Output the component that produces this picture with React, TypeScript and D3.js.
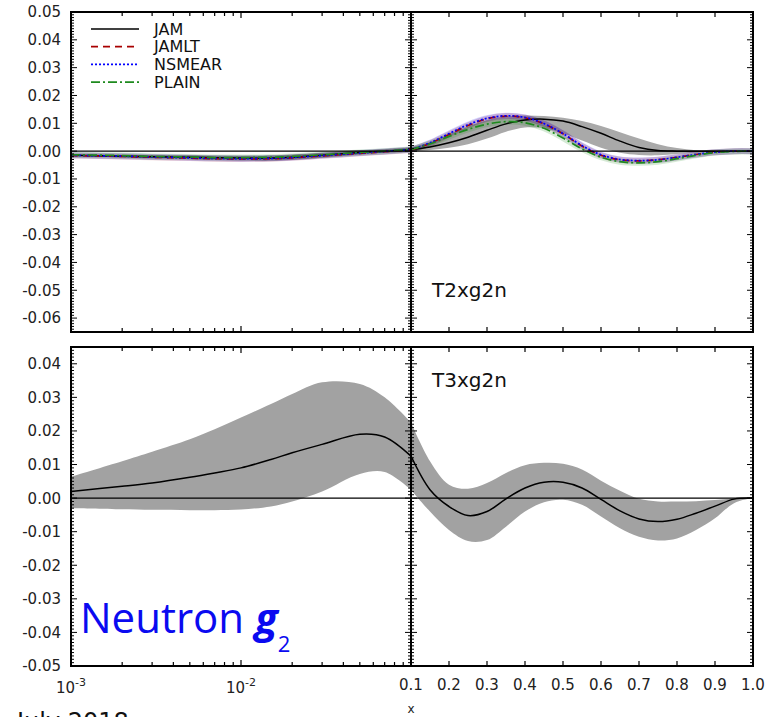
import React from "react";
import * as d3 from "d3";

const W = 776;
const H = 717;

// x grid shared by every curve (index 11 = 0.1, where the log half meets the linear half)
const XS = [
  0.001, 0.002, 0.003, 0.005, 0.007, 0.01, 0.015, 0.02, 0.03, 0.05, 0.07, 0.1,
  0.15, 0.2, 0.25, 0.3, 0.35, 0.4, 0.45, 0.5, 0.55, 0.6, 0.65, 0.7, 0.75, 0.8, 0.85, 0.9, 0.95, 1.0,
];

// T2xg2n (top panel)
const T2_JAM = [
  -0.0015, -0.0018, -0.002, -0.0022, -0.0024, -0.0025, -0.0025, -0.0022, -0.0015, -0.0005, 0.0, 0.0005,
  0.0015, 0.003, 0.005, 0.0075, 0.0098, 0.0112, 0.0115, 0.0108, 0.0088, 0.0064, 0.0036, 0.0013, 0.0002, 0, 0, 0, 0, 0,
];
const T2_JAM_HI = [
  -0.0011, -0.0013, -0.0014, -0.0015, -0.0016, -0.0016, -0.0015, -0.0012, -0.0006, 0.0002, 0.0007, 0.0013,
  0.0032, 0.006, 0.0088, 0.0112, 0.0125, 0.0128, 0.0126, 0.012, 0.0108, 0.009, 0.0068, 0.0045, 0.0025, 0.0011, 0.0003, 0.0, 0, 0,
];
const T2_JAM_LO = [
  -0.0019, -0.0023, -0.0026, -0.0029, -0.0032, -0.0034, -0.0035, -0.0032, -0.0024, -0.0012, -0.0006, -0.0002,
  0.0004, 0.0012, 0.0025, 0.0045, 0.007, 0.0085, 0.0082, 0.0064, 0.0038, 0.0012, -0.0006, -0.0014, -0.0015, -0.001, -0.0005, -0.0002, 0, 0,
];
const T2_JAMLT = [
  -0.0016, -0.0019, -0.0022, -0.0025, -0.0027, -0.0028, -0.0027, -0.0024, -0.0017, -0.0008, -0.0002, 0.0004,
  0.0028, 0.006, 0.0092, 0.0116, 0.0126, 0.012, 0.0098, 0.0062, 0.0018, -0.0015, -0.0031, -0.0035, -0.0031, -0.0022, -0.0012, -0.0004, 0, 0,
];
const T2_NSMEAR = [
  -0.0015, -0.0018, -0.0021, -0.0024, -0.0026, -0.0027, -0.0026, -0.0023, -0.0016, -0.0007, -0.0001, 0.0005,
  0.003, 0.0063, 0.0095, 0.0118, 0.0127, 0.0121, 0.0099, 0.0063, 0.002, -0.0013, -0.003, -0.0034, -0.0031, -0.0022, -0.0012, -0.0004, 0, 0,
];
const T2_PLAIN = [
  -0.0013, -0.0016, -0.0019, -0.0021, -0.0023, -0.0023, -0.0022, -0.0019, -0.0013, -0.0005, 0.0, 0.0006,
  0.0026, 0.0053, 0.0078, 0.0097, 0.0106, 0.0102, 0.0082, 0.0047, 0.0008, -0.0022, -0.0038, -0.0042, -0.0038, -0.0027, -0.0015, -0.0005, -0.0001, 0,
];

// T3xg2n (bottom panel)
const T3_JAM = [
  0.002, 0.0035, 0.0045, 0.0062, 0.0075, 0.009, 0.0115, 0.0135, 0.016, 0.019, 0.0182, 0.0125,
  0.0025, -0.0025, -0.0052, -0.004, -0.0002, 0.003, 0.0047, 0.0047, 0.003, -0.0004, -0.0038, -0.0062, -0.007, -0.0063, -0.0045, -0.0024, -0.0003, 0,
];
const T3_JAM_HI = [
  0.0064, 0.011, 0.0138, 0.0175, 0.0205, 0.024, 0.028, 0.031, 0.0345, 0.034, 0.03, 0.0225,
  0.011, 0.004, 0.0028, 0.0045, 0.0075, 0.0098, 0.0105, 0.0102, 0.0085, 0.0052, 0.0022, -0.0002, -0.001, -0.001, -0.0009, -0.0006, -0.0001, 0,
];
const T3_JAM_LO = [
  -0.003, -0.0033, -0.0035, -0.0036, -0.0036, -0.0034, -0.0025, -0.001, 0.002, 0.0072, 0.0078, 0.0025,
  -0.004, -0.0095, -0.0128, -0.0125, -0.0085, -0.004, -0.0012, -0.0005, -0.002, -0.0055, -0.009, -0.0115, -0.0126, -0.012, -0.0095, -0.006, -0.0015, 0,
];

const SERIES = ["JAM", "JAMLT", "NSMEAR", "PLAIN"];
const COLORS = ["#000000", "#a80000", "#0000ff", "#1e8a1e"];
const DASHES = ["none", "7,5", "2,2", "9,3,2,3"];

const LOG_LABELS = [0.001, 0.01];
const LIN_LABELS = [0.1, 0.2, 0.3, 0.4, 0.5, 0.6, 0.7, 0.8, 0.9, 1.0];

const FONT = "DejaVu Sans, sans-serif";

const xLog = d3.scaleLog().domain([1e-3, 0.1]).range([71, 411]);
const xLin = d3.scaleLinear().domain([0.1, 1]).range([411, 753]);
const yTop = d3.scaleLinear().domain([-0.065, 0.05]).range([332, 12]);
const yBot = d3.scaleLinear().domain([-0.05, 0.045]).range([666, 347]);

const halves = [
  { id: "L", x: xLog, from: 0, to: 12 },
  { id: "R", x: xLin, from: 11, to: 30 },
];

const curve = d3.curveCatmullRom.alpha(0.5);

function linePath(x, y, vals, from, to) {
  return d3
    .line<number>()
    .curve(curve)
    .x((i) => x(XS[i]))
    .y((i) => y(vals[i]))(d3.range(from, to));
}

function areaPath(x, y, lo, hi, from, to) {
  return d3
    .area<number>()
    .curve(curve)
    .x((i) => x(XS[i]))
    .y0((i) => y(lo[i]))
    .y1((i) => y(hi[i]))(d3.range(from, to));
}

function fmt(v) {
  const s = Math.abs(v).toFixed(2);
  return v < -1e-9 ? "-" + s : s;
}

function Frame({ y, id }) {
  const [d0, d1] = y.domain();
  const [b, t] = y.range();
  const ks = d3.range(Math.ceil(d0 * 1000 - 1e-6), Math.floor(d1 * 1000 + 1e-6) + 1);
  const logTicks = xLog.ticks().filter((v) => v > 0.0011 && v < 0.099);
  const linTicks = LIN_LABELS.filter((v) => v > 0.11 && v < 0.99);
  return (
    <g stroke="#000" fill="none">
      {ks.map((k) => {
        const yy = y(k / 1000);
        const len = k % 10 === 0 ? 6 : 3;
        return (
          <g key={id + "y" + k} strokeWidth={1}>
            <line x1={71} x2={71 + len} y1={yy} y2={yy} />
            <line x1={411 - len} x2={411 + len} y1={yy} y2={yy} />
            <line x1={753 - len} x2={753} y1={yy} y2={yy} />
          </g>
        );
      })}
      {logTicks.map((v, i) => {
        const len = Math.abs(Math.log10(v) - Math.round(Math.log10(v))) < 1e-6 ? 6 : 4;
        return (
          <g key={id + "lx" + i} strokeWidth={1.2}>
            <line x1={xLog(v)} x2={xLog(v)} y1={b} y2={b - len} />
            <line x1={xLog(v)} x2={xLog(v)} y1={t} y2={t + len} />
          </g>
        );
      })}
      {linTicks.map((v, i) => (
        <g key={id + "nx" + i} strokeWidth={1.2}>
          <line x1={xLin(v)} x2={xLin(v)} y1={b} y2={b - 5} />
          <line x1={xLin(v)} x2={xLin(v)} y1={t} y2={t + 5} />
        </g>
      ))}
      <rect x={71} y={t} width={753 - 71} height={b - t} strokeWidth={2} />
      <line x1={411} x2={411} y1={t} y2={b} strokeWidth={2} />
      <line x1={71} x2={753} y1={y(0)} y2={y(0)} strokeWidth={1.4} />
      {d3.range(Math.ceil(d0 * 100 - 1e-6), Math.floor(d1 * 100 + 1e-6) + 1).map((k) => (
        <text
          key={id + "yl" + k}
          x={61}
          y={y(k / 100)}
          dy="0.36em"
          textAnchor="end"
          stroke="none"
          fill="#222"
          fontSize={15}
          fontFamily={FONT}
        >
          {fmt(k / 100)}
        </text>
      ))}
    </g>
  );
}

export default function App() {
  return (
    <svg
      width={W}
      height={H}
      style={{ position: "absolute", left: 0, top: 0, background: "#fff" }}
      fontFamily={FONT}
    >
      <rect width={W} height={H} fill="#fff" />
      <defs>
        {[
          ["topL", 71, 411, yTop],
          ["topR", 411, 753, yTop],
          ["botL", 71, 411, yBot],
          ["botR", 411, 753, yBot],
        ].map(([id, x0, x1, y]: any) => (
          <clipPath id={id} key={id}>
            <rect x={x0} y={y.range()[1]} width={x1 - x0} height={y.range()[0] - y.range()[1]} />
          </clipPath>
        ))}
      </defs>

      {/* top panel: T2xg2n */}
      {halves.map((h) => (
        <g key={"t" + h.id} clipPath={`url(#top${h.id})`}>
          <path d={areaPath(h.x, yTop, T2_JAM_LO, T2_JAM_HI, h.from, h.to)} fill="#a9a9a9" />
          {[T2_JAMLT, T2_NSMEAR, T2_PLAIN].map((s, i) => (
            <path
              key={"h" + i}
              d={linePath(h.x, yTop, s, h.from, h.to)}
              fill="none"
              stroke={COLORS[i + 1]}
              strokeOpacity={0.18}
              strokeWidth={6}
            />
          ))}
          <path d={linePath(h.x, yTop, T2_JAM, h.from, h.to)} fill="none" stroke={COLORS[0]} strokeWidth={1.5} />
          {[T2_JAMLT, T2_NSMEAR, T2_PLAIN].map((s, i) => (
            <path
              key={"l" + i}
              d={linePath(h.x, yTop, s, h.from, h.to)}
              fill="none"
              stroke={COLORS[i + 1]}
              strokeWidth={1.7}
              strokeDasharray={DASHES[i + 1]}
            />
          ))}
        </g>
      ))}
      <Frame y={yTop} id="t" />

      {/* bottom panel: T3xg2n */}
      {halves.map((h) => (
        <g key={"b" + h.id} clipPath={`url(#bot${h.id})`}>
          <path d={areaPath(h.x, yBot, T3_JAM_LO, T3_JAM_HI, h.from, h.to)} fill="#a2a2a2" />
          <path d={linePath(h.x, yBot, T3_JAM, h.from, h.to)} fill="none" stroke="#000" strokeWidth={1.5} />
        </g>
      ))}
      <Frame y={yBot} id="b" />

      {/* legend */}
      {SERIES.map((s, i) => {
        const yy = 29 + i * 17.7;
        return (
          <g key={s}>
            <line x1={91} x2={139} y1={yy} y2={yy} stroke={COLORS[i]} strokeWidth={1.7} strokeDasharray={DASHES[i]} />
            <text x={154} y={yy} dy="0.36em" fontSize={16} fill="#111">
              {s}
            </text>
          </g>
        );
      })}

      <text x={432} y={297} fontSize={20} fill="#111">T2xg2n</text>
      <text x={432} y={387} fontSize={20} fill="#111">T3xg2n</text>

      {/* x tick labels */}
      {LOG_LABELS.map((v) => (
        <text key={"ll" + v} x={xLog(v)} y={693} textAnchor="middle" fontSize={15} fill="#222">
          10
          <tspan dy={-7} fontSize={11}>
            {Math.round(Math.log10(v))}
          </tspan>
        </text>
      ))}
      {LIN_LABELS.map((v) => (
        <text key={"nl" + v} x={xLin(v)} y={690} textAnchor="middle" fontSize={15} fill="#222">
          {v.toFixed(1)}
        </text>
      ))}
      <text x={411} y={713} textAnchor="middle" fontSize={12} fill="#222">x</text>

      <text x={80} y={633} fontSize={42} fill="#0a0af0" fontFamily="Open Sans, sans-serif">
        Neutron{" "}
        <tspan fontWeight="bold" fontStyle="italic">g</tspan>
        <tspan fontSize={22} dy={19}>2</tspan>
      </text>

      <text x={17} y={730} fontSize={24} fill="#111">July 2018</text>
    </svg>
  );
}
